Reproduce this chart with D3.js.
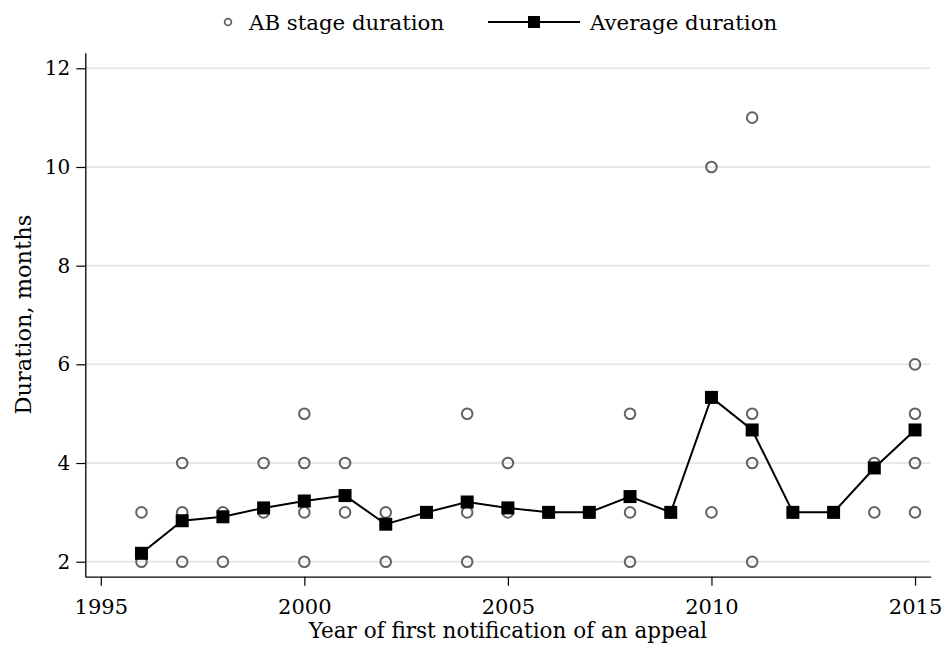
<!DOCTYPE html>
<html>
<head>
<meta charset="utf-8">
<script src="https://cdn.jsdelivr.net/npm/d3@7"></script>
<style>
  body { margin: 0; background: #fff; }
  svg text { font-family: "DejaVu Serif", serif; fill: #000; }
</style>
</head>
<body>
<svg id="chart" width="947" height="648"></svg>
<script>
// years on the x axis
var years = [1996, 1997, 1998, 1999, 2000, 2001, 2002, 2003, 2004, 2005,
             2006, 2007, 2008, 2009, 2010, 2011, 2012, 2013, 2014, 2015];
// observed AB stage durations (months) per year
var abDurations = [
  [3, 2], [4, 3, 2], [3, 2], [4, 3], [5, 4, 3, 2],
  [4, 3], [3, 2], [3], [5, 3, 2], [4, 3],
  [3], [3], [5, 3, 2], [3], [10, 3],
  [11, 5, 4, 2], [3], [3], [4, 3], [6, 5, 4, 3]
];
// yearly average duration
var avgDurations = [2.17, 2.83, 2.91, 3.09, 3.23, 3.34, 2.76, 3.0, 3.21, 3.09,
                    3.0, 3.0, 3.32, 3.0, 5.33, 4.67, 3.0, 3.0, 3.9, 4.67];
var xTicks = [1995, 2000, 2005, 2010, 2015];
var yTicks = [2, 4, 6, 8, 10, 12];

var svg = d3.select("#chart");
var pLeft = 85.3, pRight = 930.7, pTop = 52.7, pBottom = 576.7;

var x = d3.scaleLinear().domain([1994.62, 2015.385]).range([pLeft, pRight]);
var y = d3.scaleLinear().domain([1.696, 12.316]).range([pBottom, pTop]);

//gridlines
svg.append("g")
    .selectAll("line")
    .data(yTicks)
    .enter()
    .append("line")
    .attr("x1", pLeft)
    .attr("x2", pRight)
    .attr("y1", function(d){return y(d);})
    .attr("y2", function(d){return y(d);})
    .style("stroke", "#e8e8e8")
    .style("stroke-width", "2px");

//axes
var yAxis = svg.append("g")
    .attr("transform", "translate(" + pLeft + ",0)")
    .call(d3.axisLeft(y).tickValues(yTicks).tickSize(9).tickSizeOuter(0).tickPadding(6).tickFormat(d3.format("d")));
var xAxis = svg.append("g")
    .attr("transform", "translate(0," + pBottom + ")")
    .call(d3.axisBottom(x).tickValues(xTicks).tickSize(9).tickSizeOuter(0).tickPadding(13).tickFormat(d3.format("d")));
[xAxis, yAxis].forEach(function(a){
    a.select(".domain").style("stroke", "#000").style("stroke-width", "1.3px");
    a.selectAll(".tick line").style("stroke", "#000").style("stroke-width", "1.2px");
    a.selectAll("text").attr("font-family", null);
});
yAxis.selectAll("text").style("font-size", "20px");
xAxis.selectAll("text").style("font-size", "21px");

//scatter of individual durations
var points = [];
years.forEach(function(yr, i){
    abDurations[i].forEach(function(v){ points.push([yr, v]); });
});
svg.append("g")
    .selectAll("circle")
    .data(points)
    .enter()
    .append("circle")
    .attr("cx", function(d){return x(d[0]);})
    .attr("cy", function(d){return y(d[1]);})
    .attr("r", 5.3)
    .style("fill", "none")
    .style("stroke", "#626262")
    .style("stroke-width", "2px");

//average line
var line = d3.line()
    .x(function(d, i){return x(years[i]);})
    .y(function(d){return y(d);});
svg.append("path")
    .datum(avgDurations)
    .attr("d", line)
    .style("fill", "none")
    .style("stroke", "#000")
    .style("stroke-width", "2px");
var sq = 13;
svg.append("g")
    .selectAll("rect")
    .data(avgDurations)
    .enter()
    .append("rect")
    .attr("x", function(d, i){return x(years[i]) - sq/2;})
    .attr("y", function(d){return y(d) - sq/2;})
    .attr("width", sq)
    .attr("height", sq)
    .style("fill", "#000");

//axis titles
svg.append("text")
    .attr("x", (pLeft + pRight)/2)
    .attr("y", 638)
    .attr("text-anchor", "middle")
    .style("font-size", "21.5px")
    .text("Year of first notification of an appeal");
svg.append("text")
    .attr("transform", "translate(31," + ((pTop + pBottom)/2) + ") rotate(-90)")
    .attr("text-anchor", "middle")
    .style("font-size", "22.5px")
    .text("Duration, months");

//legend
var lg = svg.append("g");
lg.append("circle")
    .attr("cx", 228).attr("cy", 22).attr("r", 3.4)
    .style("fill", "none").style("stroke", "#626262").style("stroke-width", "1.7px");
lg.append("text")
    .attr("x", 249).attr("y", 30)
    .style("font-size", "21.3px")
    .text("AB stage duration");
lg.append("line")
    .attr("x1", 488).attr("x2", 580).attr("y1", 22).attr("y2", 22)
    .style("stroke", "#000").style("stroke-width", "2px");
lg.append("rect")
    .attr("x", 534 - 6).attr("y", 22 - 6).attr("width", 12).attr("height", 12)
    .style("fill", "#000");
lg.append("text")
    .attr("x", 590).attr("y", 30)
    .style("font-size", "21.3px")
    .text("Average duration");
</script>
</body>
</html>
